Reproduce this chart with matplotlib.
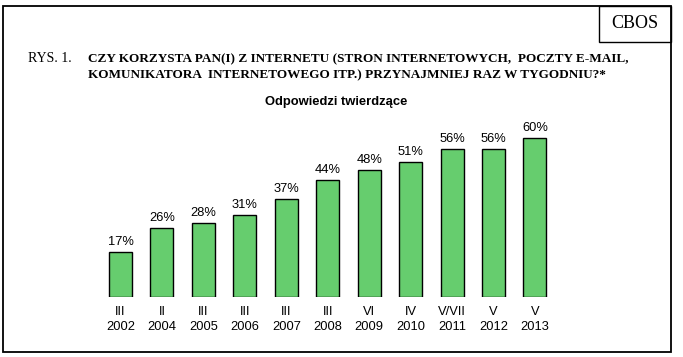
import matplotlib
matplotlib.use("Agg")
import matplotlib.pyplot as plt
from matplotlib.patches import Rectangle

months = ["III", "II", "III", "III", "III", "III", "VI", "IV", "V/VII", "V", "V"]
years = ["2002", "2004", "2005", "2006", "2007", "2008", "2009", "2010", "2011", "2012", "2013"]
values = [17, 26, 28, 31, 37, 44, 48, 51, 56, 56, 60]

W, H = 683, 357
fig = plt.figure(figsize=(W / 100, H / 100), dpi=100)
fig.patch.set_facecolor("white")

def fx(x):
    return x / W

def fy(y):
    return 1 - y / H

# outer frame
fig.add_artist(Rectangle((fx(3), fy(352)), fx(671) - fx(3), fy(6) - fy(352),
                         transform=fig.transFigure, fill=False, lw=1.3, ec="black"))
# CBOS box
fig.add_artist(Rectangle((fx(599), fy(42)), fx(671) - fx(599), fy(6) - fy(42),
                         transform=fig.transFigure, fill=False, lw=1.0, ec="black"))
fig.text(fx(635), fy(24), "CBOS", ha="center", va="center",
         family="Liberation Serif", fontsize=13)

serif = "Liberation Serif"
fig.text(fx(28), fy(59), "RYS. 1.", ha="left", va="center", family=serif, fontsize=10)
fig.text(fx(88), fy(59),
         "CZY KORZYSTA PAN(I) Z INTERNETU (STRON INTERNETOWYCH,  POCZTY E-MAIL,",
         ha="left", va="center", family=serif, fontsize=9.5, fontweight="bold")
fig.text(fx(88), fy(75),
         "KOMUNIKATORA  INTERNETOWEGO ITP.) PRZYNAJMNIEJ RAZ W TYGODNIU?*",
         ha="left", va="center", family=serif, fontsize=9.5, fontweight="bold")
fig.text(fx(336), fy(102), "Odpowiedzi twierdzące", ha="center", va="center",
         family="Liberation Sans", fontsize=9.4, fontweight="bold")

# axes: x range [-0.5, 10.5] -> px 99.8..555.7 ; y 0..70 -> px 297..111.5
left_px, right_px = 99.8, 555.7
bottom_px = 297
top_px = 297 - 70 * 2.65
ax = fig.add_axes([fx(left_px), fy(bottom_px), fx(right_px) - fx(left_px),
                   (bottom_px - top_px) / H])
x = list(range(len(values)))
ax.bar(x, values, width=0.555, color="#66CD6E", edgecolor="black", linewidth=1.0)
ax.set_xlim(-0.5, len(values) - 0.5)
ax.set_ylim(0, 70)
ax.axis("off")
for xi, v in zip(x, values):
    ax.annotate(f"{v}%", (xi, v), xytext=(0, 10 * 0.72), textcoords="offset points",
                ha="center", va="center", family="Liberation Sans", fontsize=9.3)
    ax.annotate(months[xi], (xi, 0), xytext=(0, -15 * 0.72), textcoords="offset points",
                ha="center", va="center", family="Liberation Sans", fontsize=9.3)
    ax.annotate(years[xi], (xi, 0), xytext=(0, -30 * 0.72), textcoords="offset points",
                ha="center", va="center", family="Liberation Sans", fontsize=9.3)

fig.savefig("out.png", dpi=100)
